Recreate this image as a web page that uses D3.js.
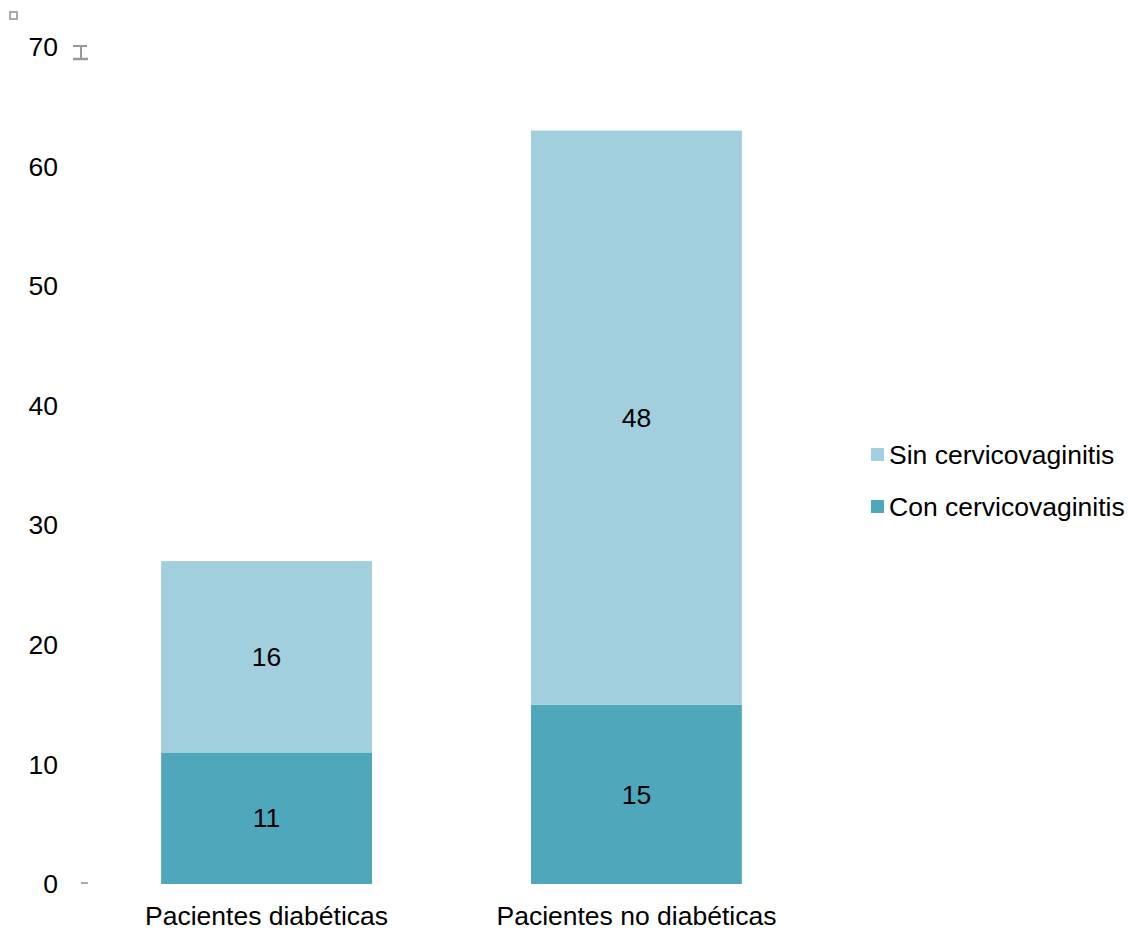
<!DOCTYPE html>
<html><head><meta charset="utf-8">
<script src="https://cdn.jsdelivr.net/npm/d3@7"></script>
<style>body{margin:0;background:#fff}svg{display:block}text{font-family:"Liberation Sans",Arial,sans-serif}</style>
</head><body>
<svg id="c" width="1132" height="932"></svg>
<script>
const categories = ["Pacientes diabéticas", "Pacientes no diabéticas"];
const seriesNames = ["Con cervicovaginitis", "Sin cervicovaginitis"];
const conValues = [11, 15];
const sinValues = [16, 48];
const yTicks = [0, 10, 20, 30, 40, 50, 60, 70];
const colors = {"Con cervicovaginitis": "#4fa7bb", "Sin cervicovaginitis": "#a2cfdd"};
const FS = 26.5;

const svg = d3.select("#c");
const y = d3.scaleLinear().domain([0, 70]).range([884, 46.8]);
const x = d3.scaleBand().domain(categories).range([81.6, 821.4]).paddingInner(0.43).paddingOuter(0.215);

const rows = categories.map((c, i) => ({cat: c, "Con cervicovaginitis": conValues[i], "Sin cervicovaginitis": sinValues[i]}));
const stacked = d3.stack().keys(seriesNames)(rows);

const g = svg.append("g");
stacked.forEach(s => {
  g.selectAll(null).data(s).enter().append("rect")
    .attr("x", d => x(d.data.cat))
    .attr("width", x.bandwidth())
    .attr("y", d => y(d[1]))
    .attr("height", d => y(d[0]) - y(d[1]))
    .attr("fill", colors[s.key]);
  g.selectAll(null).data(s).enter().append("text")
    .attr("x", d => x(d.data.cat) + x.bandwidth() / 2)
    .attr("y", d => (y(d[0]) + y(d[1])) / 2)
    .attr("dy", "0.35em")
    .attr("text-anchor", "middle")
    .attr("font-size", FS)
    .attr("fill", "#000")
    .text(d => d[1] - d[0]);
});

// Y axis labels
const ya = svg.append("g");
ya.selectAll(null).data(yTicks).enter().append("text")
  .attr("x", 58).attr("y", d => y(d)).attr("dy", "0.35em")
  .attr("text-anchor", "end").attr("font-size", FS).attr("fill", "#000")
  .text(d => d);
// small tick at 0
ya.append("line").attr("x1", 81).attr("x2", 88).attr("y1", y(0) - 1).attr("y2", y(0) - 1)
  .attr("stroke", "#aaa").attr("stroke-width", 2);
// I-beam mark at 70
const ib = ya.append("g").attr("stroke", "#999").attr("fill", "none");
ib.append("line").attr("x1", 73).attr("x2", 87).attr("y1", 46).attr("y2", 46).attr("stroke-width", 2);
ib.append("line").attr("x1", 81).attr("x2", 81).attr("y1", 46).attr("y2", 59).attr("stroke-width", 2);
ib.append("line").attr("x1", 73).attr("x2", 88).attr("y1", 59).attr("y2", 59).attr("stroke-width", 2.5);
// small square in corner
svg.append("rect").attr("x", 10).attr("y", 12).attr("width", 7).attr("height", 7)
  .attr("fill", "none").attr("stroke", "#aaa").attr("stroke-width", 2);

// X category labels
svg.append("g").selectAll(null).data(categories).enter().append("text")
  .attr("x", d => x(d) + x.bandwidth() / 2).attr("y", 916).attr("dy", "0.35em")
  .attr("text-anchor", "middle").attr("font-size", FS).attr("fill", "#000")
  .text(d => d);

// Legend
const legendItems = ["Sin cervicovaginitis", "Con cervicovaginitis"];
const lg = svg.append("g");
legendItems.forEach((k, i) => {
  const cy = 455 + i * 52;
  lg.append("rect").attr("x", 871).attr("y", cy - 7).attr("width", 13).attr("height", 13).attr("fill", colors[k]);
  lg.append("text").attr("x", 889).attr("y", cy).attr("dy", "0.35em").attr("font-size", FS).attr("fill", "#000").text(k);
});
</script>
</body></html>
